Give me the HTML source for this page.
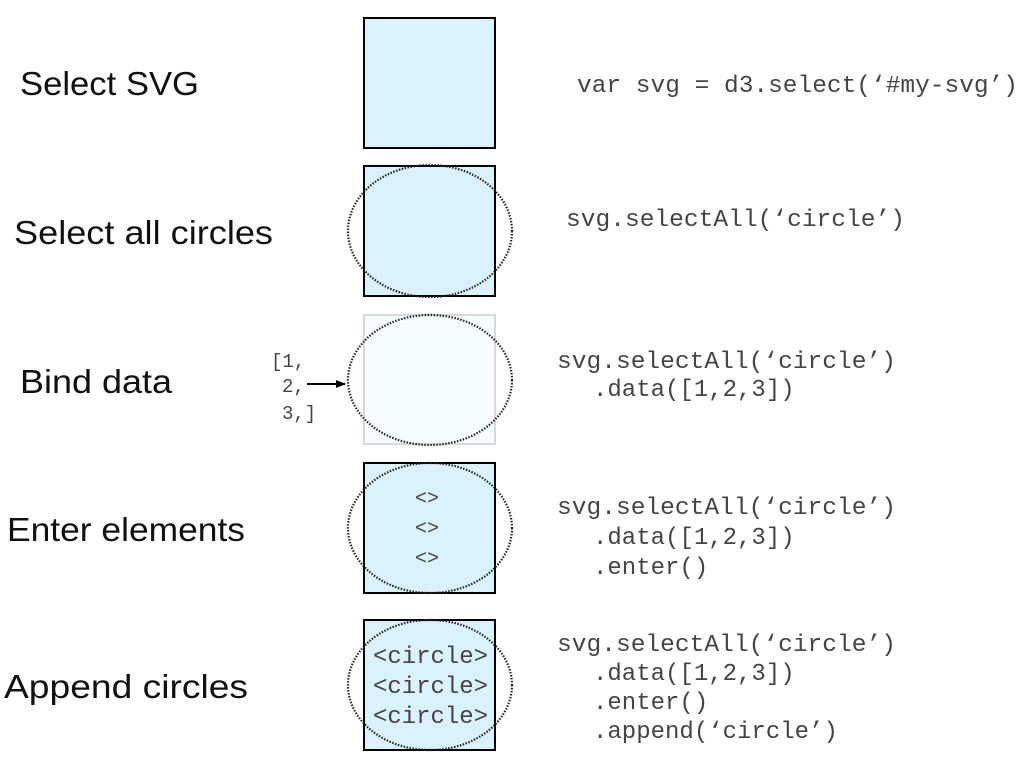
<!DOCTYPE html>
<html><head><meta charset="utf-8"><style>html,body{margin:0;padding:0;background:#fff}svg{display:block}</style></head>
<body>
<svg width="1024" height="768" xmlns="http://www.w3.org/2000/svg">
<defs><marker id="ah" markerWidth="10" markerHeight="10" refX="9" refY="5" orient="auto" markerUnits="userSpaceOnUse"><path d="M0,1 L10,5 L0,9 Z" fill="#000"/></marker></defs>
<g font-family="Liberation Sans, sans-serif" font-size="33" fill="#111">
<text x="20" y="95" textLength="179" lengthAdjust="spacingAndGlyphs">Select SVG</text>
<text x="14" y="244" textLength="259" lengthAdjust="spacingAndGlyphs">Select all circles</text>
<text x="20" y="393" textLength="152" lengthAdjust="spacingAndGlyphs">Bind data</text>
<text x="7" y="541" textLength="238" lengthAdjust="spacingAndGlyphs">Enter elements</text>
<text x="4" y="698" textLength="244" lengthAdjust="spacingAndGlyphs">Append circles</text>
</g>
<g stroke="#000" stroke-width="2" fill="#d9f2fd">
<rect x="364" y="18" width="131" height="130"/>
<rect x="364" y="166" width="131" height="130"/>
<rect x="364" y="315" width="131" height="129" fill="#f7fcfe" stroke="#d8d8d8"/>
<rect x="364" y="463" width="131" height="130"/>
<rect x="364" y="620" width="131" height="130"/>
</g>
<g fill="none" stroke="#222" stroke-width="2.2" stroke-dasharray="1.5 1.5">
<ellipse cx="430" cy="231" rx="82" ry="66"/>
<ellipse cx="430" cy="380" rx="82" ry="65"/>
<ellipse cx="430" cy="528" rx="82" ry="65"/>
<ellipse cx="430" cy="685" rx="82" ry="65"/>
</g>
<g font-family="Liberation Mono, monospace" font-size="24" fill="#444">
<text x="577" y="92" textLength="441" lengthAdjust="spacingAndGlyphs">var svg = d3.select(‘#my-svg’)</text>
<text x="566" y="226" textLength="339" lengthAdjust="spacingAndGlyphs">svg.selectAll(‘circle’)</text>
<text x="557" y="368" textLength="339" lengthAdjust="spacingAndGlyphs">svg.selectAll(‘circle’)</text>
<text x="593" y="396">.data([1,2,3])</text>
<text x="557" y="514" textLength="339" lengthAdjust="spacingAndGlyphs">svg.selectAll(‘circle’)</text>
<text x="593" y="544">.data([1,2,3])</text>
<text x="593" y="574">.enter()</text>
<text x="557" y="651" textLength="339" lengthAdjust="spacingAndGlyphs">svg.selectAll(‘circle’)</text>
<text x="593" y="680">.data([1,2,3])</text>
<text x="593" y="709">.enter()</text>
<text x="593" y="738">.append(‘circle’)</text>
<text x="271" y="367" font-size="19">[1,</text>
<text x="282" y="392" font-size="19">2,</text>
<text x="282" y="419" font-size="19">3,]</text>
<text x="415" y="504" font-size="20">&lt;&gt;</text>
<text x="415" y="534" font-size="20">&lt;&gt;</text>
<text x="415" y="564" font-size="20">&lt;&gt;</text>
<text x="373" y="663" textLength="115" lengthAdjust="spacingAndGlyphs">&lt;circle&gt;</text>
<text x="373" y="693" textLength="115" lengthAdjust="spacingAndGlyphs">&lt;circle&gt;</text>
<text x="373" y="723" textLength="115" lengthAdjust="spacingAndGlyphs">&lt;circle&gt;</text>
</g>
<line x1="307" y1="384" x2="345" y2="384" stroke="#000" stroke-width="2" marker-end="url(#ah)"/>
</svg>
</body></html>
